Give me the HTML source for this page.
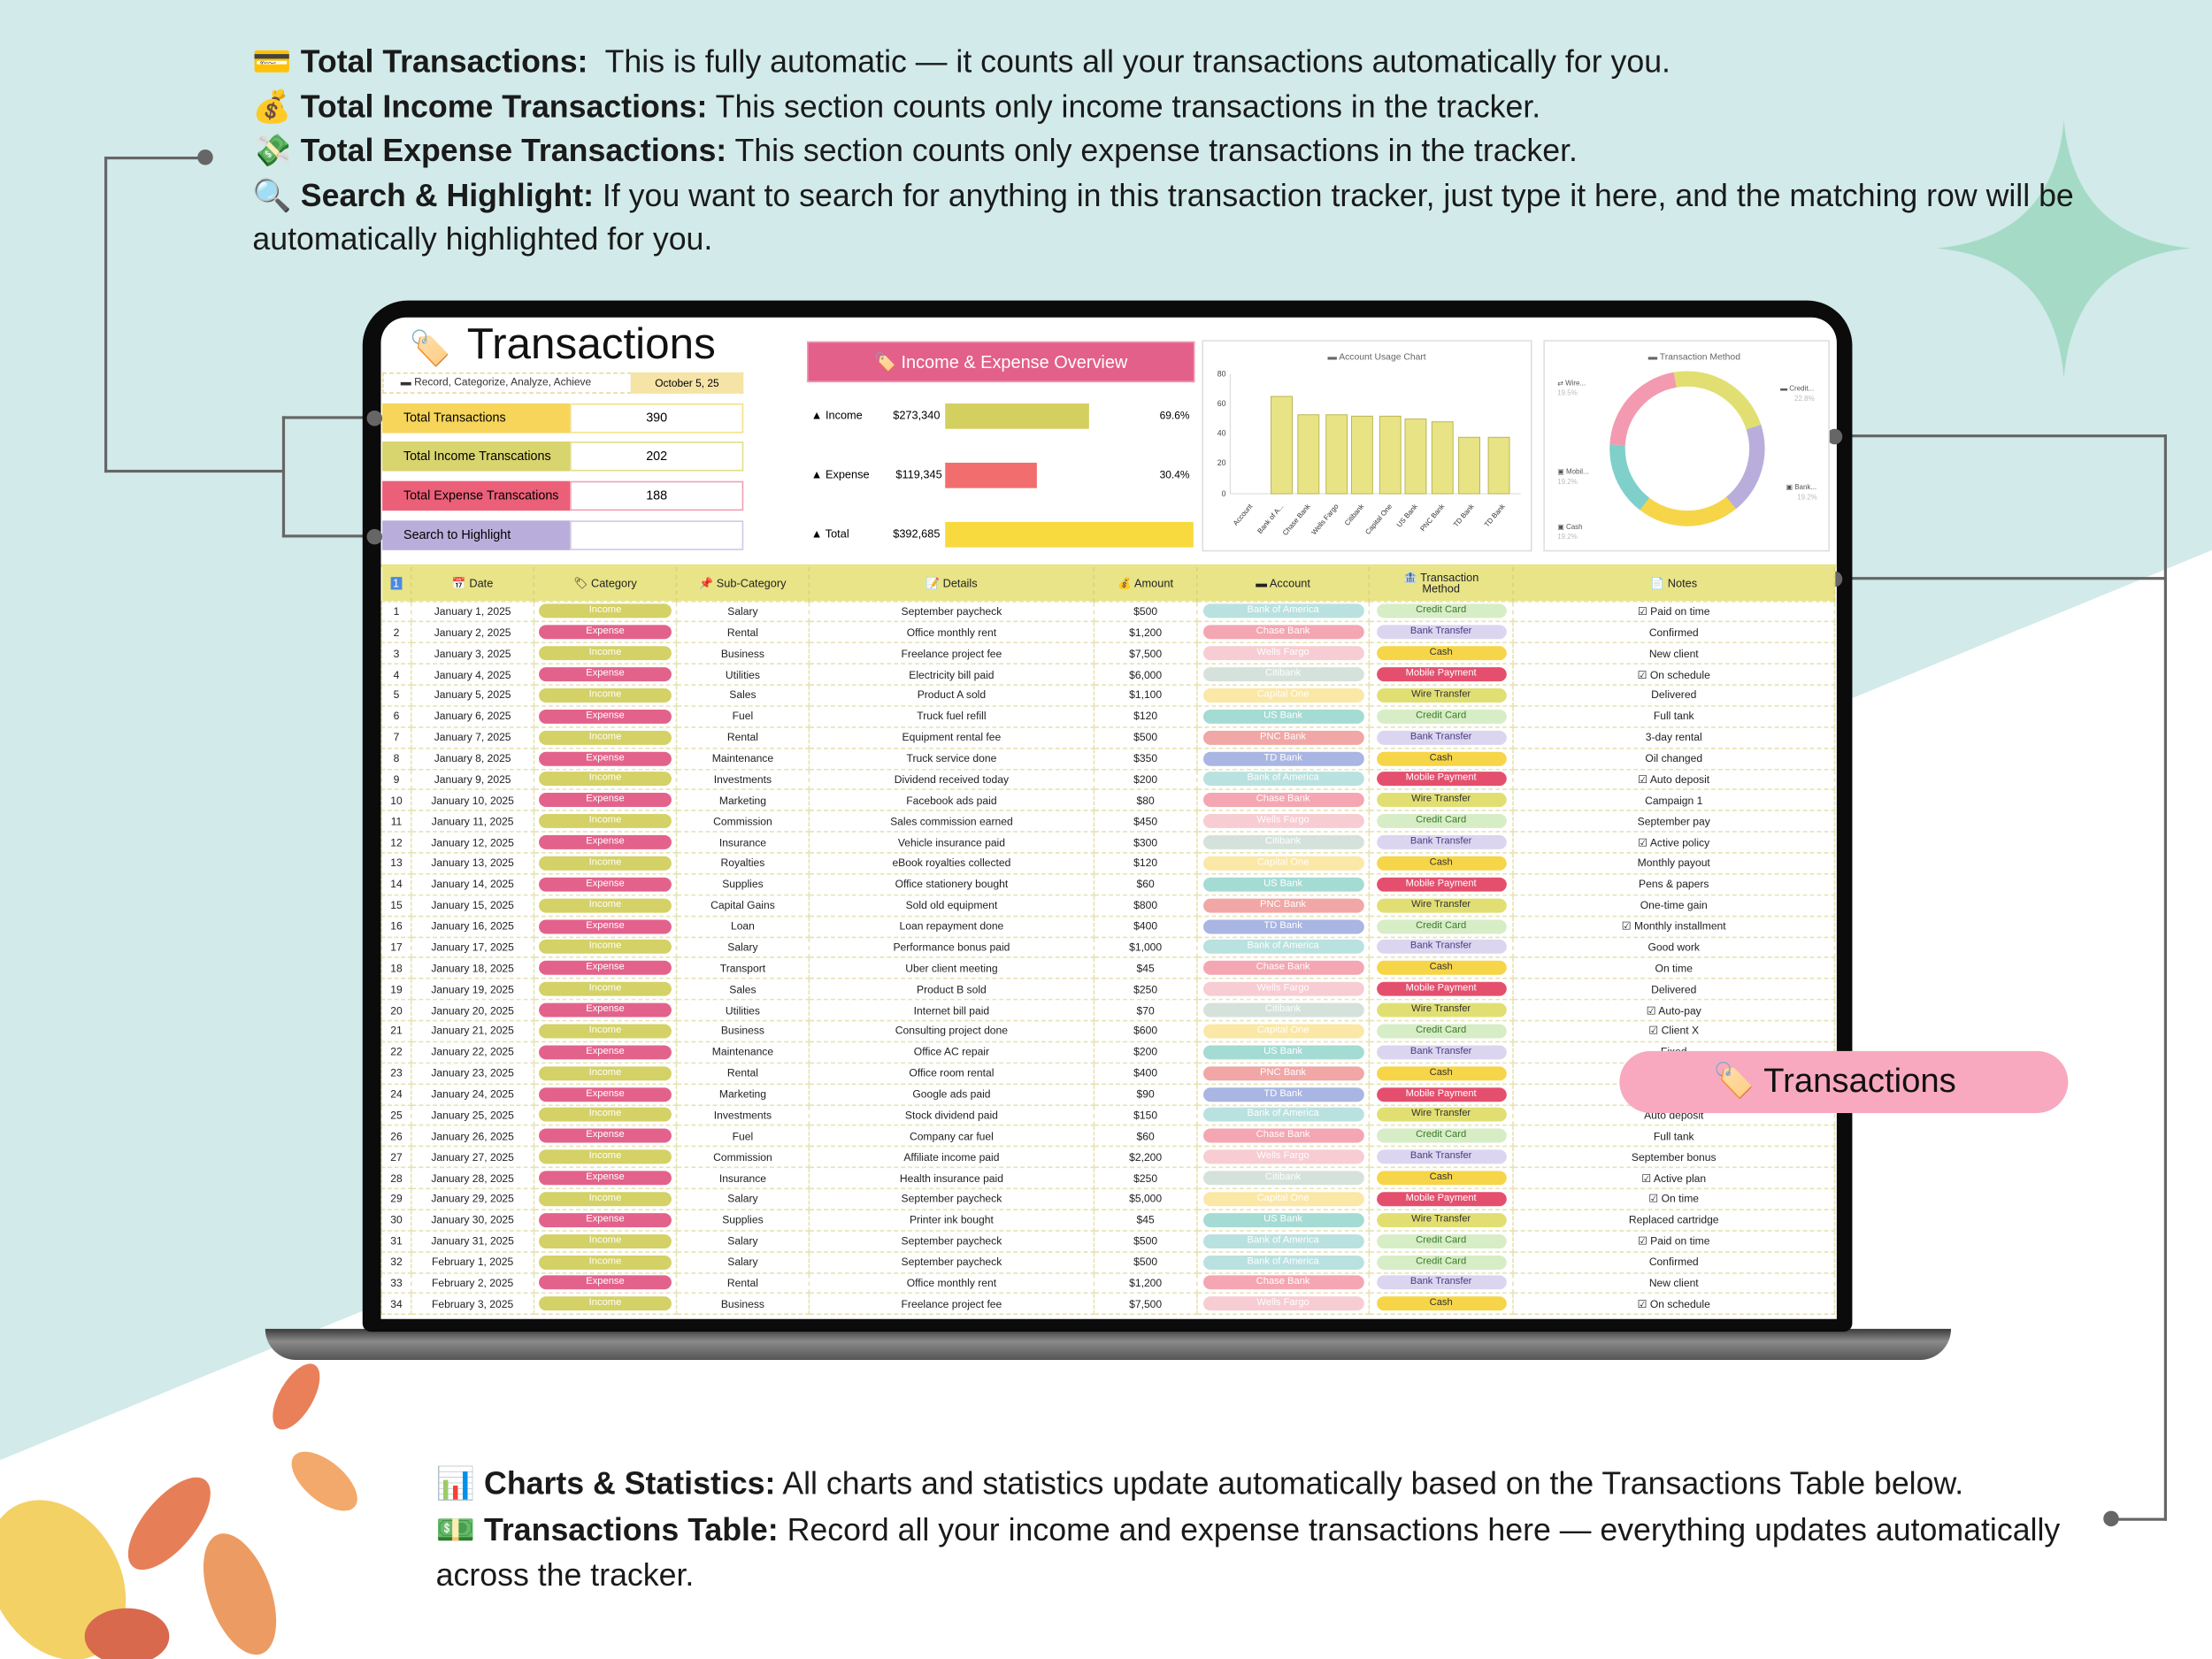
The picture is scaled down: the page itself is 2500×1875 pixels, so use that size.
<!DOCTYPE html>
<html><head><meta charset="utf-8"><style>
*{margin:0;padding:0;box-sizing:border-box}
html,body{width:2500px;height:1875px;overflow:hidden;background:#fff}
#w{position:absolute;left:0;top:0;width:1568px;height:1176px;transform:scale(1.594388);transform-origin:0 0;font-family:"Liberation Sans","DejaVu Sans",sans-serif;overflow:hidden}
.a{position:absolute}
.top{font-size:22.4px;color:#1a1a1a;line-height:31.5px;white-space:nowrap}
.top b{font-weight:bold}
table{border-collapse:collapse;table-layout:fixed;font-size:7.6px;color:#222}
td{height:14.88px;border:0.5px dashed #e6e2b0;text-align:center;white-space:nowrap;overflow:hidden;padding:0}
th{height:24px;background:#e8e487;font-weight:normal;font-size:8px;border-right:0.5px dashed #d8d47a}
.p{display:inline-block;height:10px;line-height:10px;border-radius:5px;color:#fff;font-size:7px;vertical-align:middle}
.I{background:#d4d166;width:94px}.E{background:#e3628b;width:94px}
.ac{width:114px;color:#fff}
.m{width:92px;color:#333}
.c1{background:#b9e1df}.c2{background:#f4a6b2}.c3{background:#f7ccd2}.c4{background:#d5e2db}.c5{background:#fbe7a6}.c6{background:#a4dbd3}.c7{background:#f0a7a5}.c8{background:#a9b5e2}
.m1{background:#d7edc6;color:#3a7a2a}.m2{background:#dcd5f0;color:#4a3c80}.m3{background:#f6d548}.m4{background:#e44f6e;color:#fff}.m5{background:#e1df72}
.sl{font-size:9px;padding-left:15px;line-height:21px}
.dot{position:absolute;width:11px;height:11px;border-radius:50%;background:#666}
.ln{position:absolute;background:#666}
</style></head><body><div id="w">
<svg class="a" style="left:0;top:0" width="1568" height="1176">
<polygon points="0,0 1568,0 1568,390 0,1035" fill="#d2eaea"/>
<path d="M1463,85 Q1470,168 1553,176 Q1470,184 1463,268 Q1456,184 1373,176 Q1456,168 1463,85Z" fill="#a5dbc6"/>
<g opacity="0.85">
<ellipse cx="40" cy="1120" rx="45" ry="60" fill="#f3c94a" transform="rotate(-30 40 1120)"/>
<ellipse cx="120" cy="1080" rx="18" ry="40" fill="#e2693a" transform="rotate(40 120 1080)"/>
<ellipse cx="170" cy="1130" rx="22" ry="45" fill="#e98b48" transform="rotate(-20 170 1130)"/>
<ellipse cx="210" cy="990" rx="12" ry="26" fill="#e56a3c" transform="rotate(30 210 990)"/>
<ellipse cx="230" cy="1050" rx="14" ry="28" fill="#f09a52" transform="rotate(-50 230 1050)"/>
<ellipse cx="90" cy="1160" rx="30" ry="20" fill="#d24f2e"/>
</g>
</svg>
<div class="a top" style="left:179px;top:28px">💳 <b>Total Transactions:</b>&nbsp; This is fully automatic — it counts all your transactions automatically for you.<br>💰 <b>Total Income Transactions:</b> This section counts only income transactions in the tracker.<br>💸 <b>Total Expense Transactions:</b> This section counts only expense transactions in the tracker.<br>🔍 <b>Search &amp; Highlight:</b> If you want to search for anything in this transaction tracker, just type it here, and the matching row will be<br>automatically highlighted for you.</div>
<div class="ln" style="left:74px;top:111px;width:72px;height:2px"></div>
<div class="ln" style="left:74px;top:111px;width:2px;height:224px"></div>
<div class="ln" style="left:74px;top:333px;width:127px;height:2px"></div>
<div class="ln" style="left:200px;top:295px;width:2px;height:86px"></div>
<div class="ln" style="left:200px;top:295px;width:65px;height:2px"></div>
<div class="ln" style="left:200px;top:379px;width:65px;height:2px"></div>
<div class="dot" style="left:140px;top:106px"></div>
<div class="ln" style="left:1300px;top:308px;width:236px;height:2px"></div>
<div class="ln" style="left:1300px;top:409px;width:236px;height:2px"></div>
<div class="ln" style="left:1534px;top:308px;width:2px;height:770px"></div>
<div class="ln" style="left:1497px;top:1076px;width:39px;height:2px"></div>
<div class="dot" style="left:1491px;top:1071px"></div>
<div class="a" style="left:188px;top:942px;width:1195px;height:22px;border-radius:0 0 30px 30px;background:linear-gradient(#3a3a3a,#8a8a8a 40%,#555)"></div>
<div class="a" style="left:257px;top:213px;width:1056px;height:731px;background:#0b0b0b;border-radius:32px 32px 6px 6px"></div>
<div class="a" style="left:270px;top:225px;width:1032px;height:710px;background:#fff;border-radius:18px 18px 0 0;overflow:hidden"></div>
<div class="dot" style="left:260px;top:291px"></div>
<div class="dot" style="left:260px;top:375px"></div>
<div class="dot" style="left:1295px;top:304px"></div>
<div class="dot" style="left:1295px;top:405px"></div>
<div class="a" style="left:290px;top:233px;font-size:24px">🏷️</div>
<div class="a" style="left:331px;top:226px;font-size:31px;color:#111">Transactions</div>
<div class="a" style="left:271px;top:264px;width:256px;height:15px;border:0.5px dashed #e4d9a0"></div>
<div class="a" style="left:284px;top:266px;font-size:7.5px;color:#333">▬ Record, Categorize, Analyze, Achieve</div>
<div class="a" style="left:447px;top:264px;width:80px;height:15px;background:#f6e4a6;font-size:7.5px;text-align:center;line-height:15px">October 5, 25</div>
<div class="a sl" style="left:271px;top:286px;width:133px;height:21px;background:#f6d55a">Total Transactions</div>
<div class="a" style="left:404px;top:286px;width:123px;height:21px;border:1.5px solid #f6e08a;font-size:9px;text-align:center;line-height:18px">390</div>
<div class="a sl" style="left:271px;top:313px;width:133px;height:21px;background:#d8d46e">Total Income Transcations</div>
<div class="a" style="left:404px;top:313px;width:123px;height:21px;border:1.5px solid #e2de88;font-size:9px;text-align:center;line-height:18px">202</div>
<div class="a sl" style="left:271px;top:341px;width:133px;height:21px;background:#eb6078">Total Expense Transcations</div>
<div class="a" style="left:404px;top:341px;width:123px;height:21px;border:1.5px solid #f0a0b0;font-size:9px;text-align:center;line-height:18px">188</div>
<div class="a sl" style="left:271px;top:369px;width:133px;height:21px;background:#b9aedb">Search to Highlight</div>
<div class="a" style="left:404px;top:369px;width:123px;height:21px;border:1.5px solid #cfc8e8"></div>
<div class="a" style="left:572px;top:242px;width:275px;height:29px;background:#e2608a;border:1px solid #f09ab4;color:#fff;font-size:12.5px;text-align:center;line-height:28px">🏷️ Income &amp; Expense Overview</div>
<div class="a" style="left:575px;top:290px;font-size:8px">▲ Income</div>
<div class="a" style="left:633px;top:290px;font-size:8px">$273,340</div>
<div class="a" style="left:670px;top:286px;width:102px;height:18px;background:#d4d060"></div>
<div class="a" style="left:822px;top:290px;font-size:7.5px">69.6%</div>
<div class="a" style="left:575px;top:332px;font-size:8px">▲ Expense</div>
<div class="a" style="left:635px;top:332px;font-size:8px">$119,345</div>
<div class="a" style="left:670px;top:328px;width:65px;height:18px;background:#f26e6e"></div>
<div class="a" style="left:822px;top:332px;font-size:7.5px">30.4%</div>
<div class="a" style="left:575px;top:374px;font-size:8px">▲ Total</div>
<div class="a" style="left:633px;top:374px;font-size:8px">$392,685</div>
<div class="a" style="left:670px;top:370px;width:176px;height:18px;background:#f8da3e"></div>
<svg class="a" style="left:852px;top:241px" width="234" height="150" font-family="Liberation Sans,sans-serif">
<rect x="0.5" y="0.5" width="233" height="149" fill="#fff" stroke="#ddd"/>
<text x="124" y="14" font-size="6.5" fill="#666" text-anchor="middle">▬ Account Usage Chart</text>
<g font-size="5.5" fill="#444" text-anchor="end"><text x="17" y="26">80</text><text x="17" y="47">60</text><text x="17" y="68">40</text><text x="17" y="89">20</text><text x="17" y="111">0</text></g>
<g stroke="#ccc" stroke-width="0.5"><line x1="20" y1="109" x2="226" y2="109"/><line x1="20" y1="24" x2="20" y2="109"/></g>
<g fill="#e8e485" stroke="#b8b450" stroke-width="0.6">
<rect x="49" y="40" width="15" height="69"/><rect x="68" y="53" width="15" height="56"/><rect x="88" y="53" width="15" height="56"/><rect x="106" y="54" width="15" height="55"/><rect x="126" y="54" width="15" height="55"/><rect x="144" y="56" width="15" height="53"/><rect x="163" y="58" width="15" height="51"/><rect x="182" y="69" width="15" height="40"/><rect x="203" y="69" width="15" height="40"/></g>
<g font-size="5" fill="#333">
<text transform="translate(36,118) rotate(-50)" text-anchor="end">Account</text>
<text transform="translate(58,118) rotate(-50)" text-anchor="end">Bank of A...</text>
<text transform="translate(77,118) rotate(-50)" text-anchor="end">Chase Bank</text>
<text transform="translate(97,118) rotate(-50)" text-anchor="end">Wells Fargo</text>
<text transform="translate(115,118) rotate(-50)" text-anchor="end">Citibank</text>
<text transform="translate(135,118) rotate(-50)" text-anchor="end">Capital One</text>
<text transform="translate(153,118) rotate(-50)" text-anchor="end">US Bank</text>
<text transform="translate(172,118) rotate(-50)" text-anchor="end">PNC Bank</text>
<text transform="translate(193,118) rotate(-50)" text-anchor="end">TD Bank</text>
<text transform="translate(215,118) rotate(-50)" text-anchor="end">TD Bank</text></g>
</svg>
<svg class="a" style="left:1094px;top:241px" width="203" height="150" font-family="Liberation Sans,sans-serif">
<rect x="0.5" y="0.5" width="202" height="149" fill="#fff" stroke="#ddd"/>
<text x="107" y="14" font-size="6.5" fill="#666" text-anchor="middle">▬ Transaction Method</text>
<g transform="translate(102,77) rotate(-100)" fill="none" stroke-width="11">
<circle r="49.5" stroke="#e1df72" stroke-dasharray="70.8 400"/>
<circle r="49.5" stroke="#b9aedb" stroke-dasharray="0 70.8 59.7 400"/>
<circle r="49.5" stroke="#f6d548" stroke-dasharray="0 130.5 66 400"/>
<circle r="49.5" stroke="#7fcfcb" stroke-dasharray="0 196.5 48 400"/>
<circle r="49.5" stroke="#f39ab0" stroke-dasharray="0 244.5 66.5 400"/>
</g>
<g font-size="5" fill="#555"><text x="10" y="32">⇄ Wire...</text><text x="10" y="39" fill="#bbb">19.5%</text>
<text x="168" y="36">▬ Credit...</text><text x="178" y="43" fill="#bbb">22.8%</text>
<text x="10" y="95">▣ Mobil...</text><text x="10" y="102" fill="#bbb">19.2%</text>
<text x="172" y="106">▣ Bank...</text><text x="180" y="113" fill="#bbb">19.2%</text>
<text x="10" y="134">▣ Cash</text><text x="10" y="141" fill="#bbb">19.2%</text></g>
</svg>
<div class="a" style="left:270px;top:400px;width:1032px;height:535px;overflow:hidden;border-top:2px solid #e8e487">
<table style="width:1030px">
<colgroup><col style="width:21px"><col style="width:87px"><col style="width:101px"><col style="width:94px"><col style="width:202px"><col style="width:73px"><col style="width:122px"><col style="width:102px"><col style="width:228px"></colgroup>
<tr><th><span style="background:#4a8ae0;color:#fff;padding:0 2px">1</span></th><th>📅 Date</th><th>🏷 Category</th><th>📌 Sub-Category</th><th>📝 Details</th><th>💰 Amount</th><th>▬ Account</th><th style="line-height:8px">🏦 Transaction<br>Method</th><th>📄 Notes</th></tr>
<tr><td>1</td><td>January 1, 2025</td><td><span class="p I">Income</span></td><td>Salary</td><td>September paycheck</td><td>$500</td><td><span class="p ac c1">Bank of America</span></td><td><span class="p m m1">Credit Card</span></td><td>☑ Paid on time</td></tr>
<tr><td>2</td><td>January 2, 2025</td><td><span class="p E">Expense</span></td><td>Rental</td><td>Office monthly rent</td><td>$1,200</td><td><span class="p ac c2">Chase Bank</span></td><td><span class="p m m2">Bank Transfer</span></td><td>Confirmed</td></tr>
<tr><td>3</td><td>January 3, 2025</td><td><span class="p I">Income</span></td><td>Business</td><td>Freelance project fee</td><td>$7,500</td><td><span class="p ac c3">Wells Fargo</span></td><td><span class="p m m3">Cash</span></td><td>New client</td></tr>
<tr><td>4</td><td>January 4, 2025</td><td><span class="p E">Expense</span></td><td>Utilities</td><td>Electricity bill paid</td><td>$6,000</td><td><span class="p ac c4">Citibank</span></td><td><span class="p m m4">Mobile Payment</span></td><td>☑ On schedule</td></tr>
<tr><td>5</td><td>January 5, 2025</td><td><span class="p I">Income</span></td><td>Sales</td><td>Product A sold</td><td>$1,100</td><td><span class="p ac c5">Capital One</span></td><td><span class="p m m5">Wire Transfer</span></td><td>Delivered</td></tr>
<tr><td>6</td><td>January 6, 2025</td><td><span class="p E">Expense</span></td><td>Fuel</td><td>Truck fuel refill</td><td>$120</td><td><span class="p ac c6">US Bank</span></td><td><span class="p m m1">Credit Card</span></td><td>Full tank</td></tr>
<tr><td>7</td><td>January 7, 2025</td><td><span class="p I">Income</span></td><td>Rental</td><td>Equipment rental fee</td><td>$500</td><td><span class="p ac c7">PNC Bank</span></td><td><span class="p m m2">Bank Transfer</span></td><td>3-day rental</td></tr>
<tr><td>8</td><td>January 8, 2025</td><td><span class="p E">Expense</span></td><td>Maintenance</td><td>Truck service done</td><td>$350</td><td><span class="p ac c8">TD Bank</span></td><td><span class="p m m3">Cash</span></td><td>Oil changed</td></tr>
<tr><td>9</td><td>January 9, 2025</td><td><span class="p I">Income</span></td><td>Investments</td><td>Dividend received today</td><td>$200</td><td><span class="p ac c1">Bank of America</span></td><td><span class="p m m4">Mobile Payment</span></td><td>☑ Auto deposit</td></tr>
<tr><td>10</td><td>January 10, 2025</td><td><span class="p E">Expense</span></td><td>Marketing</td><td>Facebook ads paid</td><td>$80</td><td><span class="p ac c2">Chase Bank</span></td><td><span class="p m m5">Wire Transfer</span></td><td>Campaign 1</td></tr>
<tr><td>11</td><td>January 11, 2025</td><td><span class="p I">Income</span></td><td>Commission</td><td>Sales commission earned</td><td>$450</td><td><span class="p ac c3">Wells Fargo</span></td><td><span class="p m m1">Credit Card</span></td><td>September pay</td></tr>
<tr><td>12</td><td>January 12, 2025</td><td><span class="p E">Expense</span></td><td>Insurance</td><td>Vehicle insurance paid</td><td>$300</td><td><span class="p ac c4">Citibank</span></td><td><span class="p m m2">Bank Transfer</span></td><td>☑ Active policy</td></tr>
<tr><td>13</td><td>January 13, 2025</td><td><span class="p I">Income</span></td><td>Royalties</td><td>eBook royalties collected</td><td>$120</td><td><span class="p ac c5">Capital One</span></td><td><span class="p m m3">Cash</span></td><td>Monthly payout</td></tr>
<tr><td>14</td><td>January 14, 2025</td><td><span class="p E">Expense</span></td><td>Supplies</td><td>Office stationery bought</td><td>$60</td><td><span class="p ac c6">US Bank</span></td><td><span class="p m m4">Mobile Payment</span></td><td>Pens &amp; papers</td></tr>
<tr><td>15</td><td>January 15, 2025</td><td><span class="p I">Income</span></td><td>Capital Gains</td><td>Sold old equipment</td><td>$800</td><td><span class="p ac c7">PNC Bank</span></td><td><span class="p m m5">Wire Transfer</span></td><td>One-time gain</td></tr>
<tr><td>16</td><td>January 16, 2025</td><td><span class="p E">Expense</span></td><td>Loan</td><td>Loan repayment done</td><td>$400</td><td><span class="p ac c8">TD Bank</span></td><td><span class="p m m1">Credit Card</span></td><td>☑ Monthly installment</td></tr>
<tr><td>17</td><td>January 17, 2025</td><td><span class="p I">Income</span></td><td>Salary</td><td>Performance bonus paid</td><td>$1,000</td><td><span class="p ac c1">Bank of America</span></td><td><span class="p m m2">Bank Transfer</span></td><td>Good work</td></tr>
<tr><td>18</td><td>January 18, 2025</td><td><span class="p E">Expense</span></td><td>Transport</td><td>Uber client meeting</td><td>$45</td><td><span class="p ac c2">Chase Bank</span></td><td><span class="p m m3">Cash</span></td><td>On time</td></tr>
<tr><td>19</td><td>January 19, 2025</td><td><span class="p I">Income</span></td><td>Sales</td><td>Product B sold</td><td>$250</td><td><span class="p ac c3">Wells Fargo</span></td><td><span class="p m m4">Mobile Payment</span></td><td>Delivered</td></tr>
<tr><td>20</td><td>January 20, 2025</td><td><span class="p E">Expense</span></td><td>Utilities</td><td>Internet bill paid</td><td>$70</td><td><span class="p ac c4">Citibank</span></td><td><span class="p m m5">Wire Transfer</span></td><td>☑ Auto-pay</td></tr>
<tr><td>21</td><td>January 21, 2025</td><td><span class="p I">Income</span></td><td>Business</td><td>Consulting project done</td><td>$600</td><td><span class="p ac c5">Capital One</span></td><td><span class="p m m1">Credit Card</span></td><td>☑ Client X</td></tr>
<tr><td>22</td><td>January 22, 2025</td><td><span class="p E">Expense</span></td><td>Maintenance</td><td>Office AC repair</td><td>$200</td><td><span class="p ac c6">US Bank</span></td><td><span class="p m m2">Bank Transfer</span></td><td>Fixed</td></tr>
<tr><td>23</td><td>January 23, 2025</td><td><span class="p I">Income</span></td><td>Rental</td><td>Office room rental</td><td>$400</td><td><span class="p ac c7">PNC Bank</span></td><td><span class="p m m3">Cash</span></td><td>Monthly</td></tr>
<tr><td>24</td><td>January 24, 2025</td><td><span class="p E">Expense</span></td><td>Marketing</td><td>Google ads paid</td><td>$90</td><td><span class="p ac c8">TD Bank</span></td><td><span class="p m m4">Mobile Payment</span></td><td>Campaign 2</td></tr>
<tr><td>25</td><td>January 25, 2025</td><td><span class="p I">Income</span></td><td>Investments</td><td>Stock dividend paid</td><td>$150</td><td><span class="p ac c1">Bank of America</span></td><td><span class="p m m5">Wire Transfer</span></td><td>Auto deposit</td></tr>
<tr><td>26</td><td>January 26, 2025</td><td><span class="p E">Expense</span></td><td>Fuel</td><td>Company car fuel</td><td>$60</td><td><span class="p ac c2">Chase Bank</span></td><td><span class="p m m1">Credit Card</span></td><td>Full tank</td></tr>
<tr><td>27</td><td>January 27, 2025</td><td><span class="p I">Income</span></td><td>Commission</td><td>Affiliate income paid</td><td>$2,200</td><td><span class="p ac c3">Wells Fargo</span></td><td><span class="p m m2">Bank Transfer</span></td><td>September bonus</td></tr>
<tr><td>28</td><td>January 28, 2025</td><td><span class="p E">Expense</span></td><td>Insurance</td><td>Health insurance paid</td><td>$250</td><td><span class="p ac c4">Citibank</span></td><td><span class="p m m3">Cash</span></td><td>☑ Active plan</td></tr>
<tr><td>29</td><td>January 29, 2025</td><td><span class="p I">Income</span></td><td>Salary</td><td>September paycheck</td><td>$5,000</td><td><span class="p ac c5">Capital One</span></td><td><span class="p m m4">Mobile Payment</span></td><td>☑ On time</td></tr>
<tr><td>30</td><td>January 30, 2025</td><td><span class="p E">Expense</span></td><td>Supplies</td><td>Printer ink bought</td><td>$45</td><td><span class="p ac c6">US Bank</span></td><td><span class="p m m5">Wire Transfer</span></td><td>Replaced cartridge</td></tr>
<tr><td>31</td><td>January 31, 2025</td><td><span class="p I">Income</span></td><td>Salary</td><td>September paycheck</td><td>$500</td><td><span class="p ac c1">Bank of America</span></td><td><span class="p m m1">Credit Card</span></td><td>☑ Paid on time</td></tr>
<tr><td>32</td><td>February 1, 2025</td><td><span class="p I">Income</span></td><td>Salary</td><td>September paycheck</td><td>$500</td><td><span class="p ac c1">Bank of America</span></td><td><span class="p m m1">Credit Card</span></td><td>Confirmed</td></tr>
<tr><td>33</td><td>February 2, 2025</td><td><span class="p E">Expense</span></td><td>Rental</td><td>Office monthly rent</td><td>$1,200</td><td><span class="p ac c2">Chase Bank</span></td><td><span class="p m m2">Bank Transfer</span></td><td>New client</td></tr>
<tr><td>34</td><td>February 3, 2025</td><td><span class="p I">Income</span></td><td>Business</td><td>Freelance project fee</td><td>$7,500</td><td><span class="p ac c3">Wells Fargo</span></td><td><span class="p m m3">Cash</span></td><td>☑ On schedule</td></tr>
</table></div>
<div class="a" style="left:1148px;top:745px;width:318px;height:44px;border-radius:22px;background:#f8a9c0;font-size:24px;line-height:44px;color:#111;padding-left:66px">🏷️ Transactions</div>
<div class="a top" style="left:309px;top:1036px;line-height:32.5px">📊 <b>Charts &amp; Statistics:</b> All charts and statistics update automatically based on the Transactions Table below.<br>💵 <b>Transactions Table:</b> Record all your income and expense transactions here — everything updates automatically<br>across the tracker.</div>
</div></body></html>
